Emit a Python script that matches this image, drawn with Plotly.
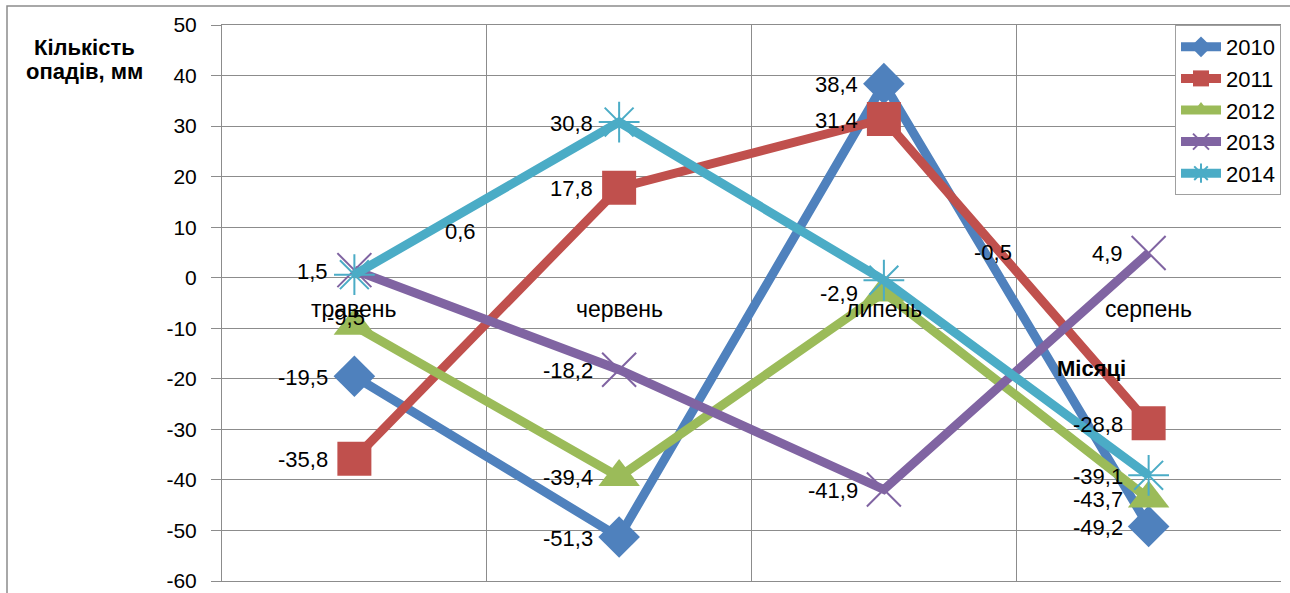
import plotly.graph_objects as go

categories = ["травень", "червень", "липень", "серпень"]
years = ["2010", "2011", "2012", "2013", "2014"]
v2010 = [-19.5, -51.3, 38.4, -49.2]
v2011 = [-35.8, 17.8, 31.4, -28.8]
v2012 = [-9.5, -39.4, -2.9, -43.7]
v2013 = [1.5, -18.2, -41.9, 4.9]
v2014 = [0.6, 30.8, -0.5, -39.1]
y_ticks = [50, 40, 30, 20, 10, 0, -10, -20, -30, -40, -50, -60]

series = [v2010, v2011, v2012, v2013, v2014]
colors = ["#4F81BD", "#C0504D", "#9BBB59", "#8064A2", "#4BACC6"]
symbols = ["diamond", "square", "triangle-up", "x-thin-open", "asterisk-open"]
msizes = [32, 34, 36, 34, 34]
mline = [0, 0, 0, 2, 2]

FONT = "Liberation Sans, Arial, sans-serif"
xs = list(range(len(categories)))
fig = go.Figure()
for name, vals, c, s, ms, ml in zip(years, series, colors, symbols, msizes, mline):
    fig.add_trace(go.Scatter(
        x=xs, y=vals, name=name, mode="lines+markers",
        line=dict(color=c, width=9),
        marker=dict(symbol=s, size=ms, color=c, line=dict(color=c, width=ml)),
    ))

def fmt(v):
    return ("%.1f" % v).replace(".", ",")

# label offsets that differ from the default (series index, category index)
special = {(4, 0): (106, 43), (4, 2): (109, 28), (2, 0): (-8, 8)}
anns = []
for si, vals in enumerate(series):
    for ci, v in enumerate(vals):
        if (si, ci) in special:
            dx, dy = special[(si, ci)]
            anns.append(dict(x=ci, y=v, xref="x", yref="y", text=fmt(v), showarrow=False,
                             xanchor="center", yanchor="middle", xshift=dx, yshift=dy,
                             font=dict(size=22, color="black")))
        else:
            anns.append(dict(x=ci, y=v, xref="x", yref="y", text=fmt(v), showarrow=False,
                             xanchor="right", yanchor="middle", xshift=-24, yshift=-1,
                             font=dict(size=22, color="black")))

for ci, cat in enumerate(categories):
    anns.append(dict(x=ci, y=0, xref="x", yref="y", text=cat, showarrow=False,
                     xanchor="center", yanchor="middle", yshift=-31,
                     font=dict(size=23, color="black")))

anns.append(dict(x=0.8215, y=0.383, xref="paper", yref="paper", text="<b>Місяці</b>",
                 showarrow=False, xanchor="center", yanchor="middle",
                 font=dict(size=22, color="black")))
anns.append(dict(x=-0.1294, y=0.9604, xref="paper", yref="paper",
                 text="<b>Кількість</b>", showarrow=False,
                 xanchor="center", yanchor="middle",
                 font=dict(size=22, color="black")))
anns.append(dict(x=-0.1294, y=0.9155, xref="paper", yref="paper",
                 text="<b>опадів, мм</b>", showarrow=False,
                 xanchor="center", yanchor="middle",
                 font=dict(size=22, color="black")))

fig.update_layout(
    width=1290, height=593,
    margin=dict(l=222, r=9, t=25, b=12, autoexpand=False),
    paper_bgcolor="white", plot_bgcolor="white",
    font=dict(family=FONT, color="black"),
    annotations=anns,
    showlegend=True,
    legend=dict(x=1, y=1, xanchor="right", yanchor="top",
                bgcolor="white", bordercolor="#A0A0A0", borderwidth=1,
                font=dict(size=22, color="black"), itemwidth=40,
                tracegroupgap=0),
    shapes=[dict(type="rect", xref="paper", yref="paper",
                 x0=(7 - 222) / 1059, x1=1.2, y0=-0.2, y1=1 + 19 / 556,
                 line=dict(color="#8C8C8C", width=1.5), layer="below")],
)
fig.update_xaxes(range=[-0.5, 3.5], tickvals=[-0.5, 0.5, 1.5, 2.5, 3.5],
                 showticklabels=False, showgrid=True, gridcolor="#8C8C8C", gridwidth=1,
                 zeroline=False, showline=True, linecolor="#8C8C8C", mirror=True,
                 ticks="", automargin=False)
fig.update_yaxes(range=[-60, 50], tickvals=y_ticks, ticktext=[str(t) for t in y_ticks],
                 showgrid=True, gridcolor="#8C8C8C", gridwidth=1, zeroline=False,
                 showline=True, linecolor="#8C8C8C", ticks="outside", ticklen=10,
                 tickcolor="#8C8C8C", tickfont=dict(size=21, color="black"),
                 ticklabelstandoff=10, automargin=False)

fig.write_html("out.html")
